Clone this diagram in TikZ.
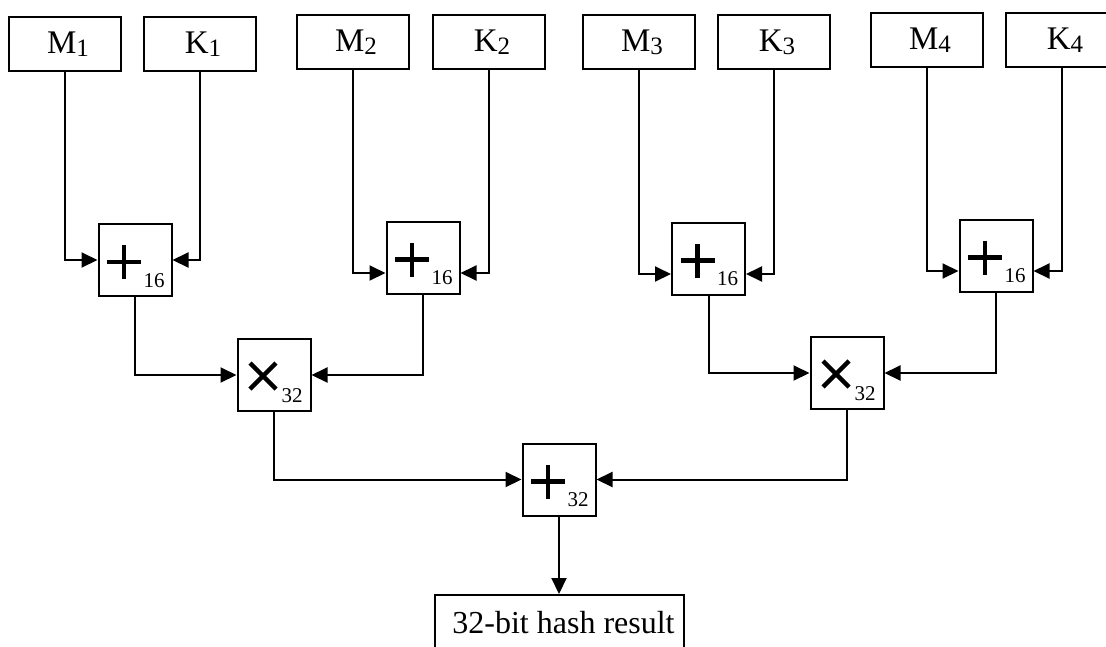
\documentclass[tikz,border=0pt]{standalone}
\usepackage{fontspec}
\setmainfont{Liberation Serif}
\usetikzlibrary{arrows.meta}
\newcommand\lowsub[1]{\raisebox{-3pt}{\fontsize{25}{25}\selectfont #1}}
\begin{document}
\begin{tikzpicture}[x=1pt,y=-1pt,
  inbox/.style={draw, line width=2pt, minimum width=112pt, minimum height=54pt, inner sep=0pt, font=\fontsize{33}{36}\selectfont},
  opbox/.style={draw, line width=2pt, minimum width=73pt, minimum height=72pt, inner sep=0pt},
  subtext/.style={anchor=base west, inner sep=0pt, font=\fontsize{21}{21}\selectfont},
  plusop/.style={opbox, path picture={
      \draw[line width=4.5pt] ([shift={(-28,2)}]path picture bounding box.center) -- ++(34,0);
      \draw[line width=4.5pt] ([shift={(-11,-15)}]path picture bounding box.center) -- ++(0,34);},
    append after command={node[subtext] at ([shift={(8.5,27)}]\tikzlastnode.center) {#1}}},
  mulop/.style={opbox, path picture={
      \draw[line width=4.5pt] ([shift={(-24,-12)}]path picture bounding box.center) -- ++(26,26);
      \draw[line width=4.5pt] ([shift={(-24,14)}]path picture bounding box.center) -- ++(26,-26);},
    append after command={node[subtext] at ([shift={(7.5,27)}]\tikzlastnode.center) {#1}}},
  resbox/.style={draw, line width=2pt, minimum width=249pt, inner xsep=0pt, inner ysep=16pt, text height=22pt, text depth=30pt, font=\fontsize{32}{36}\selectfont},
  arr/.style={line width=2pt, -{Triangle[length=16pt,width=15pt]}}
]
\useasboundingbox (0,0) rectangle (1106,646);
\clip (0,0) rectangle (1106,646);

\node[inbox] (M1) at (65,44) {\hspace*{6pt}M\lowsub{1}};
\node[inbox] (K1) at (200,44) {\hspace*{6pt}K\lowsub{1}};
\node[inbox] (M2) at (353,42) {\hspace*{6pt}M\lowsub{2}};
\node[inbox] (K2) at (489,42) {\hspace*{6pt}K\lowsub{2}};
\node[inbox] (M3) at (639,42) {\hspace*{6pt}M\lowsub{3}};
\node[inbox] (K3) at (774,42) {\hspace*{6pt}K\lowsub{3}};
\node[inbox] (M4) at (927,40) {\hspace*{6pt}M\lowsub{4}};
\node[inbox] (K4) at (1062,40) {\hspace*{6pt}K\lowsub{4}};

\node[plusop=16] (A1) at (135,260) {};
\node[plusop=16] (A2) at (423,257.5) {};
\node[plusop=16] (A3) at (708.5,258.5) {};
\node[plusop=16] (A4) at (996,255.5) {};

\node[mulop=32] (X1) at (274,375) {};
\node[mulop=32] (X2) at (847,373) {};

\node[plusop=32] (F) at (559,479.5) {};

\node[resbox, anchor=north] (R) at (559.5,594) {\hspace*{8pt}32-bit hash result};

\draw[arr] (M1.south) |- (A1.west);
\draw[arr] (K1.south) |- (A1.east);
\draw[arr] (M2.south) |- ([yshift=-15.5pt]A2.west);
\draw[arr] (K2.south) |- ([yshift=-15.5pt]A2.east);
\draw[arr] (M3.south) |- ([yshift=-15.5pt]A3.west);
\draw[arr] (K3.south) |- ([yshift=-15.5pt]A3.east);
\draw[arr] (M4.south) |- ([yshift=-15.5pt]A4.west);
\draw[arr] (K4.south) |- ([yshift=-15.5pt]A4.east);

\draw[arr] (A1.south) |- (X1.west);
\draw[arr] (A2.south) |- (X1.east);
\draw[arr] (A3.south) |- (X2.west);
\draw[arr] (A4.south) |- (X2.east);

\draw[arr] (X1.south) |- (F.west);
\draw[arr] (X2.south) |- (F.east);

\draw[arr] (F.south) -- (F.south |- R.north);
\end{tikzpicture}
\end{document}
